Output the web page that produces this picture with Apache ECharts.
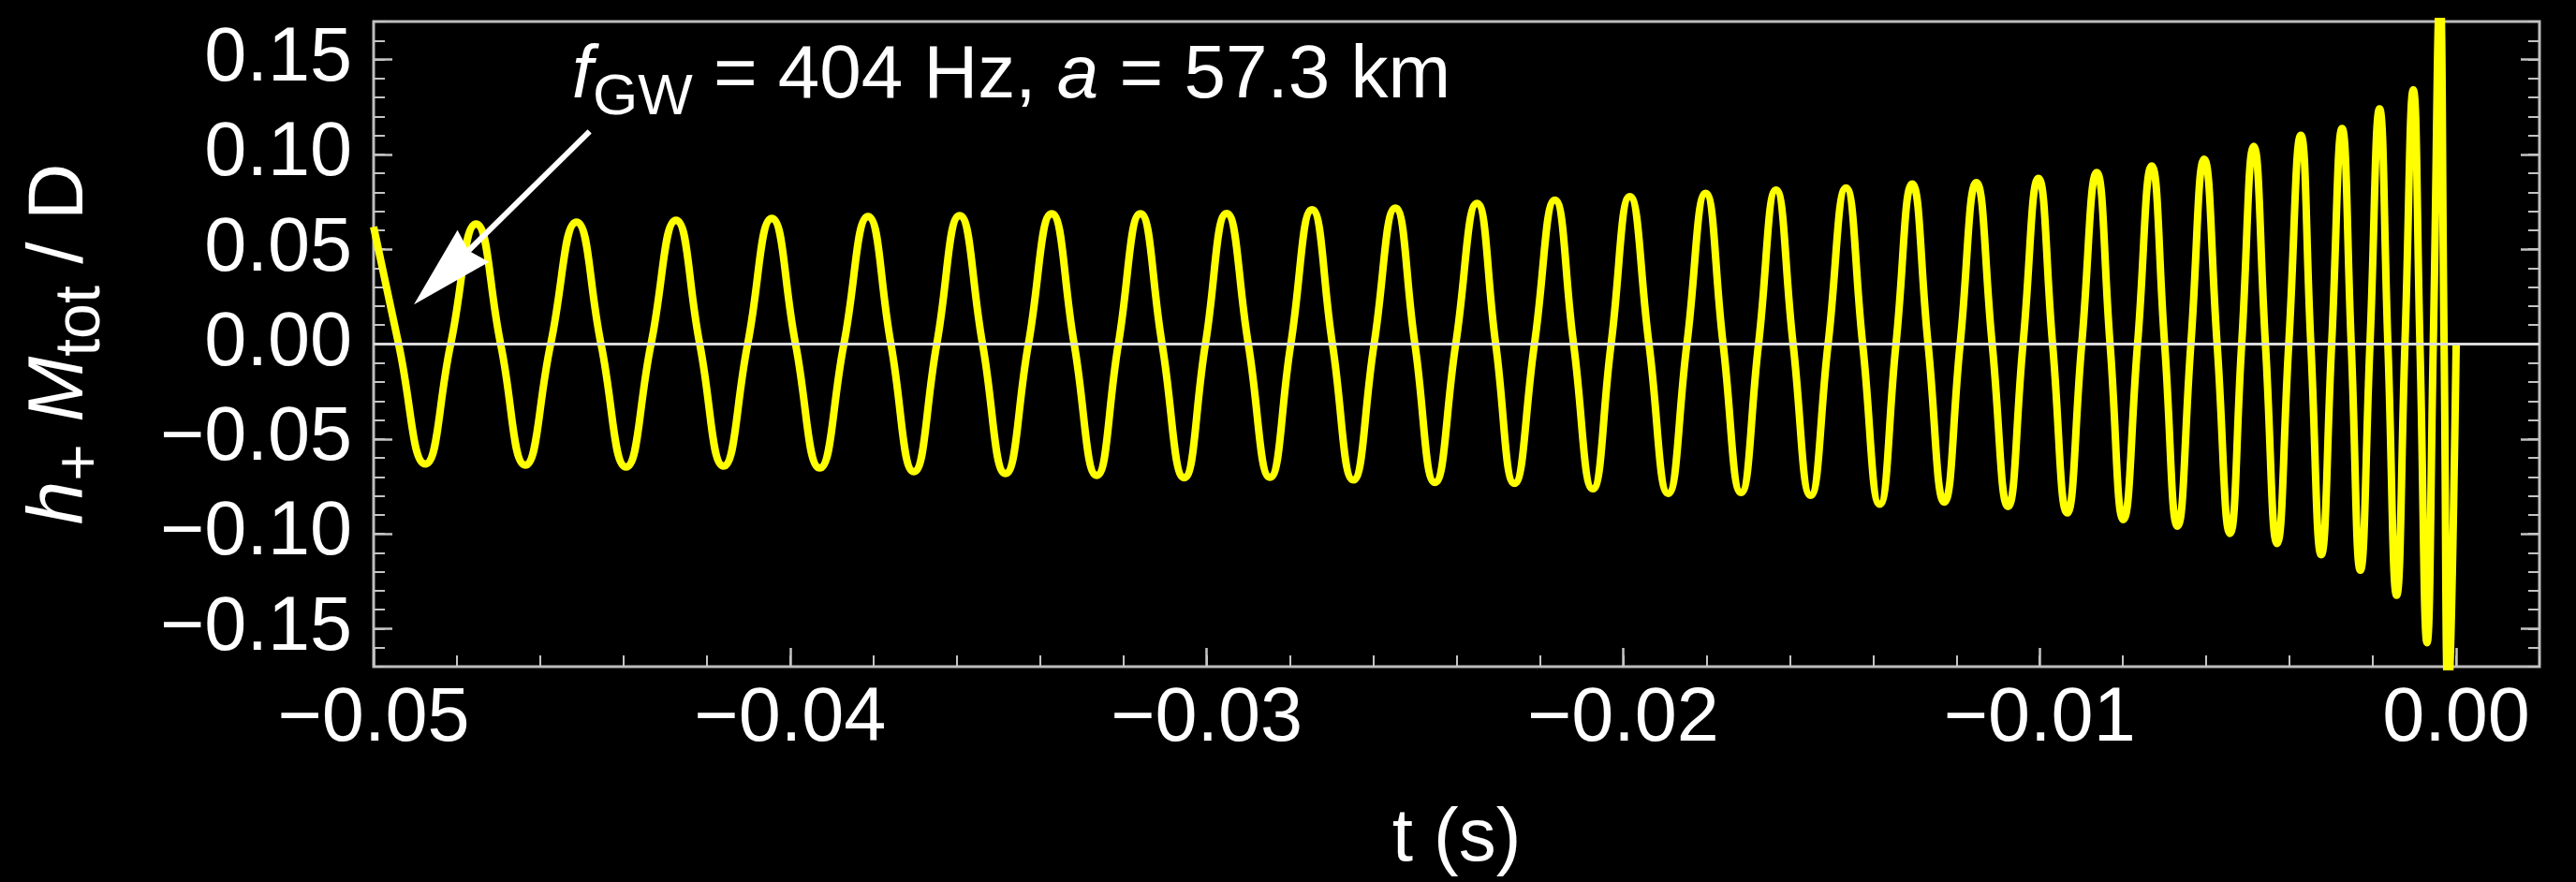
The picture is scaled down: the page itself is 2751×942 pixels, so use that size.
<!DOCTYPE html>
<html>
<head>
<meta charset="utf-8">
<title>h+ Mtot / D</title>
<script src="https://cdn.jsdelivr.net/npm/echarts@6/dist/echarts.min.js"></script>
<style>
  html, body { margin: 0; padding: 0; background: #000; }
  #chart { width: 2751px; height: 942px; }
</style>
</head>
<body>
<div id="chart"></div>
<script>
// Inspiral strain h+ Mtot / D versus time before merger.
// Samples sit at each extremum and at each zero crossing of the waveform.
const sampleTimes = [
  -0.05000, -0.04940, -0.04876, -0.04815, -0.04754, -0.04695, -0.04636, -0.04575,
  -0.04513, -0.04454, -0.04394, -0.04334, -0.04274, -0.04217, -0.04160, -0.04102,
  -0.04044, -0.03987, -0.03929, -0.03871, -0.03813, -0.03758, -0.03703, -0.03648,
  -0.03593, -0.03538, -0.03483, -0.03428, -0.03372, -0.03318, -0.03264, -0.03212,
  -0.03159, -0.03107, -0.03054, -0.03003, -0.02952, -0.02900, -0.02848, -0.02798,
  -0.02747, -0.02698, -0.02648, -0.02598, -0.02547, -0.02500, -0.02452, -0.02402,
  -0.02351, -0.02306, -0.02261, -0.02213, -0.02164, -0.02119, -0.02073, -0.02029,
  -0.01984, -0.01938, -0.01892, -0.01847, -0.01802, -0.01760, -0.01717, -0.01675,
  -0.01633, -0.01592, -0.01550, -0.01508, -0.01465, -0.01425, -0.01384, -0.01345,
  -0.01306, -0.01268, -0.01229, -0.01191, -0.01152, -0.01114, -0.01076, -0.01040,
  -0.01003, -0.00969, -0.00934, -0.00899, -0.00863, -0.00831, -0.00799, -0.00765,
  -0.00731, -0.00700, -0.00669, -0.00637, -0.00605, -0.00574, -0.00543, -0.00515,
  -0.00486, -0.00458, -0.00430, -0.00402, -0.00373, -0.00349, -0.00324, -0.00299,
  -0.00274, -0.00252, -0.00230, -0.00207, -0.00184, -0.00164, -0.00143, -0.00123,
  -0.00103, -0.00087, -0.00070, -0.00055, -0.00039, -0.00029, -0.00019, 0.00000
];
const sampleStrain = [
   0.0618, 0, -0.0632, 0,  0.0633, 0, -0.0638, 0,
   0.0643, 0, -0.0648, 0,  0.0653, 0, -0.0643, 0,
   0.0662, 0, -0.0653, 0,  0.0672, 0, -0.0672, 0,
   0.0677, 0, -0.0682, 0,  0.0687, 0, -0.0692, 0,
   0.0687, 0, -0.0704, 0,  0.0689, 0, -0.0702, 0,
   0.0708, 0, -0.0716, 0,  0.0717, 0, -0.0729, 0,
   0.0742, 0, -0.0734, 0,  0.0759, 0, -0.0763, 0,
   0.0777, 0, -0.0787, 0,  0.0795, 0, -0.0782, 0,
   0.0812, 0, -0.0797, 0,  0.0823, 0, -0.0844, 0,
   0.0844, 0, -0.0833, 0,  0.0851, 0, -0.0856, 0,
   0.0874, 0, -0.0890, 0,  0.0904, 0, -0.0925, 0,
   0.0939, 0, -0.0960, 0,  0.0974, 0, -0.0998, 0,
   0.1043, 0, -0.1051, 0,  0.1101, 0, -0.1110, 0,
   0.1136, 0, -0.1192, 0,  0.1240, 0, -0.1324, 0,
   0.1340, 0, -0.1574, 0,  0.1850, 0, -0.1850, 0
];

// Axis ticks and their labels
const xMajorTicks = [-0.05, -0.04, -0.03, -0.02, -0.01, 0.00];
const xTickLabels = ['\u22120.05', '\u22120.04', '\u22120.03', '\u22120.02', '\u22120.01', '0.00'];
const yMajorTicks = [-0.15, -0.10, -0.05, 0.00, 0.05, 0.10, 0.15];
const yTickLabels = ['\u22120.15', '\u22120.10', '\u22120.05', '0.00', '0.05', '0.10', '0.15'];

// Annotation: label anchor (left, middle) and arrow from the label to the curve
const annotationAnchor = [-0.04524, 0.1411];
const arrowTail = [-0.044814, 0.11212];
const arrowTip = [-0.049033, 0.020854];

const X_MIN = -0.05, X_MAX = 0.002;
const Y_MIN = -0.17, Y_MAX = 0.17;

const xMinorTicks = [];
for (let i = 0; i <= 26; i++) xMinorTicks.push(+(X_MIN + i * 0.002).toFixed(3));
const yMinorTicks = [];
for (let i = 0; i <= 34; i++) yMinorTicks.push(+(Y_MIN + i * 0.01).toFixed(2));

const FONT = "'Liberation Sans', Arial, Helvetica, sans-serif";
const FRAME = '#bdbdbd';
const TICK = '#c4c4c4';

function labelFor(values, labels) {
  return function (v) {
    const i = values.findIndex(function (u) { return Math.abs(u - v) < 1e-9; });
    return i >= 0 ? labels[i] : '';
  };
}

function tickAxis(extra) {
  return Object.assign({
    type: 'value',
    axisLine: { show: false, onZero: false },
    splitLine: { show: false },
    axisLabel: { show: false }
  }, extra);
}

const chart = echarts.init(document.getElementById('chart'), null, { renderer: 'canvas' });

chart.setOption({
  backgroundColor: '#000',
  animation: false,
  grid: {
    left: 399, right: 39, top: 23, bottom: 226,
    show: true, borderColor: FRAME, borderWidth: 3, backgroundColor: 'transparent'
  },
  xAxis: [
    tickAxis({
      min: X_MIN, max: X_MAX, position: 'bottom',
      axisTick: { show: true, inside: true, length: 20, lineStyle: { color: TICK, width: 2.5 }, customValues: xMajorTicks },
      axisLabel: {
        show: true, customValues: xMajorTicks, formatter: labelFor(xMajorTicks, xTickLabels),
        color: '#fff', fontFamily: FONT, fontSize: 81, margin: 16
      },
      name: 't (s)', nameLocation: 'middle', nameGap: 145,
      nameTextStyle: { color: '#fff', fontFamily: FONT, fontSize: 80 }
    }),
    tickAxis({
      min: X_MIN, max: X_MAX, position: 'bottom',
      axisTick: { show: true, inside: true, length: 12, lineStyle: { color: TICK, width: 2 }, customValues: xMinorTicks }
    })
  ],
  yAxis: [
    tickAxis({
      min: Y_MIN, max: Y_MAX, position: 'left',
      axisTick: { show: true, inside: true, length: 20, lineStyle: { color: TICK, width: 2.5 }, customValues: yMajorTicks },
      axisLabel: {
        show: true, customValues: yMajorTicks, formatter: labelFor(yMajorTicks, yTickLabels),
        color: '#fff', fontFamily: FONT, fontSize: 81, margin: 23
      },
      name: '{i|h}{sub|+}{n| }{i|M}{sub|tot}{n| / D}',
      nameLocation: 'middle', nameRotate: 90, nameGap: 278,
      nameTextStyle: {
        color: '#fff', fontFamily: FONT, fontSize: 84,
        rich: {
          i: { color: '#fff', fontFamily: FONT, fontSize: 84, fontStyle: 'italic', verticalAlign: 'middle' },
          n: { color: '#fff', fontFamily: FONT, fontSize: 84, verticalAlign: 'middle' },
          sub: { color: '#fff', fontFamily: FONT, fontSize: 68, padding: [45, 0, 0, 0], verticalAlign: 'middle' }
        }
      }
    }),
    tickAxis({
      min: Y_MIN, max: Y_MAX, position: 'left',
      axisTick: { show: true, inside: true, length: 12, lineStyle: { color: TICK, width: 2 }, customValues: yMinorTicks }
    }),
    tickAxis({
      min: Y_MIN, max: Y_MAX, position: 'right',
      axisTick: { show: true, inside: true, length: 20, lineStyle: { color: TICK, width: 2.5 }, customValues: yMajorTicks }
    }),
    tickAxis({
      min: Y_MIN, max: Y_MAX, position: 'right',
      axisTick: { show: true, inside: true, length: 12, lineStyle: { color: TICK, width: 2 }, customValues: yMinorTicks }
    })
  ],
  series: [
    {
      name: 'h+ Mtot / D',
      type: 'line',
      xAxisIndex: 0, yAxisIndex: 0,
      data: sampleTimes.map(function (t, i) { return [t, sampleStrain[i]]; }),
      showSymbol: false,
      smooth: 0.5,
      clip: true,
      lineStyle: { color: '#ffff00', width: 8, join: 'round' },
      markLine: {
        silent: true, symbol: 'none', animation: false,
        label: { show: false },
        lineStyle: { color: '#dadada', width: 3, type: 'solid' },
        data: [{ yAxis: 0 }]
      }
    },
    {
      name: 'annotation',
      type: 'custom',
      xAxisIndex: 0, yAxisIndex: 0,
      silent: true, clip: false, z: 5,
      data: [arrowTip],
      renderItem: function (params, api) {
        const tail = api.coord(arrowTail);
        const tip = api.coord(arrowTip);
        const dx = tip[0] - tail[0], dy = tip[1] - tail[1];
        const len = Math.hypot(dx, dy);
        const ux = dx / len, uy = dy / len;
        const px = -uy, py = ux;
        const headLen = 89, headHalf = 24, notch = 7;
        const bx = tip[0] - ux * headLen, by = tip[1] - uy * headLen;
        const ix = tip[0] - ux * (headLen - notch), iy = tip[1] - uy * (headLen - notch);
        const anchor = api.coord(annotationAnchor);
        return {
          type: 'group',
          children: [
            { type: 'line', shape: { x1: tail[0], y1: tail[1], x2: ix, y2: iy },
              style: { stroke: '#fff', lineWidth: 6 } },
            { type: 'polygon',
              shape: { points: [tip, [bx + px * headHalf, by + py * headHalf], [ix, iy], [bx - px * headHalf, by - py * headHalf]] },
              style: { fill: '#fff' } },
            { type: 'text', x: anchor[0], y: anchor[1],
              style: {
                text: '{i|f}{sub|GW}{n| = 404 Hz, }{i|a}{n| = 57.3 km}',
                align: 'left', verticalAlign: 'middle', fill: '#fff',
                fontFamily: FONT, fontSize: 80,
                rich: {
                  i: { fill: '#fff', fontFamily: FONT, fontSize: 80, fontStyle: 'italic', verticalAlign: 'middle' },
                  n: { fill: '#fff', fontFamily: FONT, fontSize: 80, verticalAlign: 'middle' },
                  sub: { fill: '#fff', fontFamily: FONT, fontSize: 62, padding: [46, 0, 0, 0], verticalAlign: 'middle' }
                }
              } }
          ]
        };
      }
    }
  ]
});
</script>
</body>
</html>
